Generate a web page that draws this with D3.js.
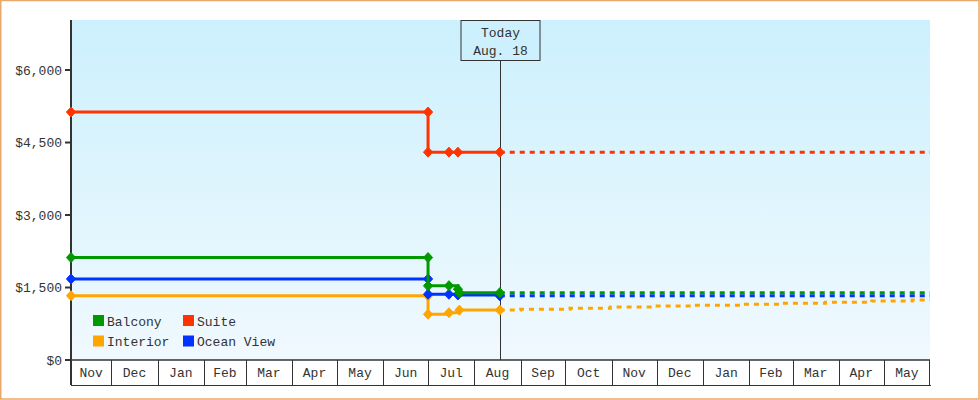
<!DOCTYPE html>
<html>
<head>
<meta charset="utf-8">
<script src="https://cdn.jsdelivr.net/npm/d3@7"></script>
<style>
  html, body { margin: 0; padding: 0; background: #fff; }
  svg { display: block; }
  text { font-family: "Liberation Mono", "DejaVu Sans Mono", monospace; font-size: 13px; fill: #333; }
</style>
</head>
<body>
<svg id="chart" width="980" height="400"></svg>
<script>
// ---------- data ----------
const seriesNames = ["Balcony", "Suite", "Interior", "Ocean View"];
const seriesColors = ["#009900", "#ff3300", "#ffa500", "#0033ff"];

const balconyHistory = [["2022-11-04",2120],["2023-07-01",2120],["2023-07-01",1535],["2023-07-15",1538],["2023-07-21",1464],["2023-07-22",1393],["2023-08-18",1393]];
const suiteHistory   = [["2022-11-04",5130],["2023-07-01",5130],["2023-07-01",4300],["2023-07-15",4300],["2023-07-21",4300],["2023-08-18",4300]];
const interiorHistory= [["2022-11-04",1331],["2023-07-01",1331],["2023-07-01",946],["2023-07-15",979],["2023-07-22",1032],["2023-08-18",1032]];
const oceanHistory   = [["2022-11-04",1677],["2023-07-01",1677],["2023-07-01",1360],["2023-07-15",1360],["2023-07-21",1345],["2023-08-18",1328]];

const balconyForecast = [["2023-08-18",1393],["2024-06-01",1393]];
const suiteForecast   = [["2023-08-18",4300],["2024-06-01",4300]];
const interiorForecast= [["2023-08-18",1032],["2023-09-01",1049],["2023-10-04",1070],["2023-10-31",1097],["2023-11-28",1117],["2023-12-26",1132],["2024-01-27",1152],["2024-02-23",1173],["2024-03-23",1194],["2024-04-23",1221],["2024-05-20",1241],["2024-06-01",1241]];
const oceanForecast   = [["2023-08-18",1328],["2024-06-01",1328]];

const yTicks = [0, 1500, 3000, 4500, 6000];
const domainStart = "2022-11-04";
const domainEnd = "2024-06-01";
const todayDate = "2023-08-18";
const todayLabel = ["Today", "Aug. 18"];
const yMax = 7035;

// ---------- setup ----------
const parse = d3.timeParse("%Y-%m-%d");
const histories = [balconyHistory, suiteHistory, interiorHistory, oceanHistory];
const forecasts = [balconyForecast, suiteForecast, interiorForecast, oceanForecast];

const W = 980, H = 400;
const pLeft = 71, pRight = 930, pTop = 20, pBottom = 360, bandBottom = 385;

const svg = d3.select("#chart");

const x = d3.scaleTime().domain([parse(domainStart), parse(domainEnd)]).range([pLeft, pRight]);
const y = d3.scaleLinear().domain([0, yMax]).range([pBottom, pTop]);

// outer border
svg.append("rect").attr("x", 0.75).attr("y", 0.5).attr("width", W - 1.75).attr("height", H - 1.5)
  .attr("fill", "#fff").attr("stroke", "#e8a96a").attr("stroke-width", 1.5);

// gradient
const defs = svg.append("defs");
const grad = defs.append("linearGradient").attr("id", "bg").attr("x1", 0).attr("y1", 0).attr("x2", 0).attr("y2", 1);
grad.append("stop").attr("offset", "0%").attr("stop-color", "#ccf0fd");
grad.append("stop").attr("offset", "100%").attr("stop-color", "#f0f9fe");

svg.append("rect").attr("x", pLeft).attr("y", pTop).attr("width", pRight - pLeft).attr("height", pBottom - pTop)
  .attr("fill", "url(#bg)");

// month band axis
const months = d3.timeMonth.range(d3.timeMonth.floor(x.domain()[0]), x.domain()[1]);
const band = svg.append("g");
months.forEach(m => {
  const s = m < x.domain()[0] ? x.domain()[0] : m;
  const nx = d3.timeMonth.offset(m, 1);
  const e = nx > x.domain()[1] ? x.domain()[1] : nx;
  const x0 = x(s), x1 = x(e);
  band.append("line").attr("x1", Math.round(x0) + 0.5).attr("x2", Math.round(x0) + 0.5)
    .attr("y1", pBottom).attr("y2", bandBottom).attr("stroke", "#333").attr("stroke-width", 1);
  band.append("text").attr("x", (x0 + x1) / 2).attr("y", 377).attr("text-anchor", "middle")
    .text(d3.timeFormat("%b")(m));
});
band.append("line").attr("x1", Math.round(x(x.domain()[1])) - 0.5).attr("x2", Math.round(x(x.domain()[1])) - 0.5)
  .attr("y1", pBottom).attr("y2", bandBottom).attr("stroke", "#333");
band.append("line").attr("x1", pLeft).attr("x2", pRight + 1).attr("y1", bandBottom + 0.5).attr("y2", bandBottom + 0.5)
  .attr("stroke", "#333").attr("stroke-width", 1.2);
band.append("line").attr("x1", pLeft).attr("x2", pRight).attr("y1", pBottom).attr("y2", pBottom)
  .attr("stroke", "#333").attr("stroke-width", 1.5);

// y axis
const yAxis = svg.append("g");
yAxis.append("line").attr("x1", pLeft).attr("x2", pLeft).attr("y1", pTop).attr("y2", bandBottom)
  .attr("stroke", "#333").attr("stroke-width", 2);
yTicks.forEach(t => {
  const yy = y(t);
  yAxis.append("line").attr("x1", 65).attr("x2", pLeft).attr("y1", yy).attr("y2", yy)
    .attr("stroke", "#333").attr("stroke-width", 2);
  yAxis.append("text").attr("x", 62).attr("y", yy + 4.7).attr("text-anchor", "end")
    .text("$" + d3.format(",")(t));
});

// today marker
const tx = Math.round(x(parse(todayDate))) + 0.5;
svg.append("line").attr("x1", tx).attr("x2", tx).attr("y1", 60).attr("y2", pBottom)
  .attr("stroke", "#333").attr("stroke-width", 1);
svg.append("rect").attr("x", tx - 39.5).attr("y", 20.5).attr("width", 79).attr("height", 40)
  .attr("fill", "#ccf0fd").attr("stroke", "#333").attr("stroke-width", 1);
svg.append("text").attr("x", tx).attr("y", 36.5).attr("text-anchor", "middle").text(todayLabel[0]);
svg.append("text").attr("x", tx).attr("y", 55).attr("text-anchor", "middle").text(todayLabel[1]);

// lines
const line = d3.line().x(d => x(parse(d[0]))).y(d => y(d[1])).curve(d3.curveStepAfter);
const diamond = "M0,-5L4.6,0L0,5L-4.6,0Z";

const drawOrder = [1, 2, 3, 0];
drawOrder.forEach(i => {
  svg.append("path").datum(forecasts[i]).attr("d", line).attr("fill", "none")
    .attr("stroke", seriesColors[i]).attr("stroke-width", 3).attr("stroke-dasharray", "5,5");
});
drawOrder.forEach(i => {
  const g = svg.append("g");
  g.append("path").datum(histories[i]).attr("d", line).attr("fill", "none")
    .attr("stroke", seriesColors[i]).attr("stroke-width", 3);
  g.selectAll("path.m").data(histories[i]).join("path").attr("class", "m")
    .attr("d", diamond)
    .attr("transform", d => `translate(${x(parse(d[0]))},${y(d[1])})`)
    .attr("fill", seriesColors[i]).attr("stroke", seriesColors[i]).attr("stroke-width", 1);
});

// legend
const legend = svg.append("g");
seriesNames.forEach((n, i) => {
  const col = i % 2, row = Math.floor(i / 2);
  const lx = 93 + col * 90, ly = 315 + row * 20.5;
  legend.append("rect").attr("x", lx).attr("y", ly).attr("width", 11).attr("height", 11).attr("fill", seriesColors[i]);
  legend.append("text").attr("x", lx + 14).attr("y", ly + 10.5).text(n);
});
</script>
</body>
</html>
